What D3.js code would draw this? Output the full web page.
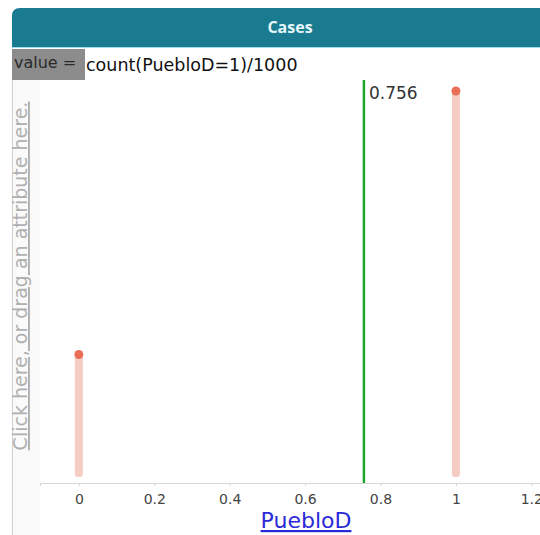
<!DOCTYPE html>
<html>
<head>
<meta charset="utf-8">
<script src="https://cdn.jsdelivr.net/npm/d3@7"></script>
<style>
  body { margin: 0; background: #fff; }
  svg { display: block; font-family: "DejaVu Sans", Verdana, sans-serif; }
</style>
</head>
<body>
<div id="chart"></div>
<script>
// PuebloD values and how many cases have each
const categories = [0, 1]
const counts = [244, 756]
const meanValue = 0.756
const xTicks = [0, 0.2, 0.4, 0.6, 0.8, 1, 1.2]

const width = 540, height = 535

const svg = d3.select('#chart')
    .append('svg')
    .attr('width', width)
    .attr('height', height)

// header
svg.append('path')
    .attr('d', 'M12,47 V16 Q12,8 20,8 H540 V47 Z')
    .attr('fill', '#197a90')
svg.append('line')
    .attr('x1', 12).attr('x2', 540)
    .attr('y1', 47.5).attr('y2', 47.5)
    .attr('stroke', '#9fe0ea')
svg.append('text')
    .attr('x', 290).attr('y', 33)
    .attr('text-anchor', 'middle')
    .attr('fill', '#e6f7fa')
    .style('font-family', '"Open Sans", sans-serif')
    .style('font-size', '16px')
    .style('font-weight', 'bold')
    .text('Cases')

// formula row
svg.append('rect')
    .attr('x', 12).attr('y', 49)
    .attr('width', 73).attr('height', 31)
    .attr('fill', '#8c8c8c')
svg.append('text')
    .attr('x', 14).attr('y', 68)
    .attr('fill', '#2a2a2a')
    .style('font-size', '16px')
    .text('value =')
svg.append('text')
    .attr('x', 86).attr('y', 71)
    .attr('fill', '#111')
    .style('font-size', '17.5px')
    .text('count(PuebloD=1)/1000')

// left border and y-axis drop area
svg.append('rect')
    .attr('x', 12).attr('y', 80)
    .attr('width', 28).attr('height', height - 80)
    .attr('fill', '#fafafa')
svg.append('line')
    .attr('x1', 12.5).attr('x2', 12.5)
    .attr('y1', 80).attr('y2', height)
    .attr('stroke', '#cfcfcf')
svg.append('text')
    .attr('transform', 'translate(27,276) rotate(-90)')
    .attr('text-anchor', 'middle')
    .attr('fill', '#b0b0b0')
    .style('font-size', '19px')
    .style('text-decoration', 'underline')
    .text('Click here, or drag an attribute here.')

var x = d3.scaleLinear()
    .domain([-0.103, 1.223])
    .range([40, 540])

var y = d3.scaleLinear()
    .domain([0, 756])
    .range([480, 91])

// x axis
var axis = svg.append('g')
    .attr('transform', 'translate(0,483)')
    .call(d3.axisBottom(x).tickValues(xTicks).tickSize(3).tickFormat(d3.format('')))
axis.select('.domain').attr('stroke', '#d6d6d6')
axis.selectAll('.tick line').attr('stroke', '#d6d6d6')
axis.selectAll('.tick text')
    .attr('fill', '#444')
    .attr('dy', '1.05em')
    .style('font-family', '"DejaVu Sans", sans-serif')
    .style('font-size', '14px')

svg.append('text')
    .attr('x', 306).attr('y', 528)
    .attr('text-anchor', 'middle')
    .attr('fill', '#2a2ad8')
    .style('font-size', '22px')
    .style('text-decoration', 'underline')
    .text('PuebloD')

// bars
svg.selectAll('rect.bar')
    .data(categories)
    .enter()
    .append('rect')
    .attr('class', 'bar')
    .attr('x', (d) => x(d) - 4)
    .attr('y', (d, i) => y(counts[i]))
    .attr('width', 8)
    .attr('height', (d, i) => y(0) - y(counts[i]) - 3)
    .attr('rx', 3)
    .attr('fill', '#f6cdc2')

svg.selectAll('circle.dot')
    .data(categories)
    .enter()
    .append('circle')
    .attr('class', 'dot')
    .attr('cx', (d) => x(d))
    .attr('cy', (d, i) => y(counts[i]))
    .attr('r', 4.5)
    .attr('fill', '#e86f55')

// plotted value line
svg.append('line')
    .attr('x1', x(meanValue)).attr('x2', x(meanValue))
    .attr('y1', 80).attr('y2', 483)
    .attr('stroke', '#1fa52a')
    .attr('stroke-width', 2.5)
svg.append('text')
    .attr('x', x(meanValue) + 5).attr('y', 99)
    .attr('fill', '#333')
    .style('font-size', '17px')
    .text(meanValue)
</script>
</body>
</html>
